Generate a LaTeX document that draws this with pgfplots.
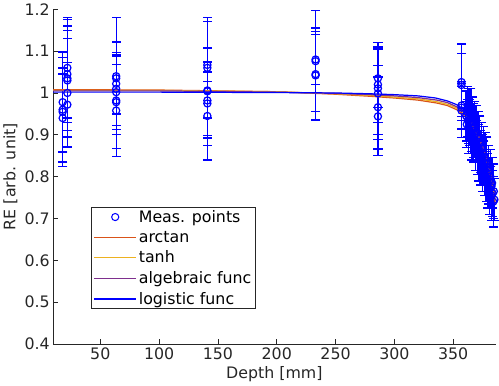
\documentclass[border=0pt]{standalone}
\usepackage{pgfplots}
\pgfplotsset{compat=1.18}
\usepackage{pgfplotstable}
\usepackage{fontspec}
\setmainfont{DejaVu Sans}
\definecolor{axc}{HTML}{262626}
\definecolor{carctan}{rgb}{0.850,0.325,0.098}
\definecolor{ctanh}{rgb}{0.929,0.694,0.125}
\definecolor{calg}{rgb}{0.494,0.184,0.556}
\definecolor{clog}{rgb}{0,0,1}

\pgfplotstableread{
x y e
18 0.940 0.105
18 0.955 0.130
18 0.978 0.120
18 0.960 0.100
22 0.972 0.100
22 1.000 0.130
22 1.030 0.120
22 1.035 0.140
22 1.045 0.115
22 1.060 0.120
63.5 0.958 0.110
63.5 0.978 0.110
63.5 0.982 0.115
63.5 1.002 0.090
63.5 1.010 0.110
63.5 1.022 0.100
63.5 1.035 0.085
63.5 1.040 0.140
141 0.945 0.105
141 0.975 0.100
141 0.982 0.090
141 1.004 0.105
141 1.006 0.165
141 1.060 0.120
141 1.067 0.040
233 1.042 0.105
233 1.045 0.110
233 1.076 0.121
233 1.080 0.060
286 0.944 0.094
286 0.966 0.100
286 0.999 0.110
286 1.011 0.110
286 1.035 0.070
286 1.020 0.090
357 0.958 0.065
357 0.970 0.057
357 1.019 0.075
357 1.026 0.091
357 0.965 0.050
361 0.945 0.060
361.5 0.925 0.055
362 0.955 0.060
362.5 0.935 0.050
363 0.915 0.060
363.5 0.945 0.065
364 0.930 0.055
364.5 0.905 0.050
365 0.940 0.070
365.5 0.920 0.060
366 0.895 0.055
366.5 0.930 0.060
367 0.910 0.065
367.5 0.885 0.050
368 0.920 0.060
368.5 0.900 0.055
369 0.875 0.060
369.5 0.905 0.065
370 0.885 0.050
370.5 0.865 0.060
371 0.895 0.060
371.5 0.870 0.055
372 0.850 0.060
372.5 0.880 0.065
373 0.860 0.050
373.5 0.840 0.060
374 0.870 0.060
374.5 0.845 0.055
375 0.825 0.060
375.5 0.855 0.065
376 0.835 0.050
376.5 0.815 0.060
377 0.845 0.060
377.5 0.820 0.055
378 0.800 0.060
378.5 0.830 0.065
379 0.805 0.050
379.5 0.785 0.060
380 0.815 0.060
380.5 0.790 0.055
381 0.770 0.060
381.5 0.800 0.065
382 0.775 0.050
382.5 0.755 0.060
383 0.785 0.060
383.5 0.760 0.055
384 0.740 0.060
384.5 0.765 0.065
385 0.745 0.050
}\meas

\pgfplotsset{
  linelegend/.style={legend image code/.code={\draw[##1] (0bp,0bp) -- (41bp,0bp);}},
  marklegend/.style={legend image code/.code={\draw[clog, line width=1bp] (20.5bp,0bp) circle (3.5bp);}},
}

\begin{document}
\begin{tikzpicture}
\begin{axis}[
  scale only axis,
  width=432bp, height=327bp,
  xmin=10, xmax=386, ymin=0.4, ymax=1.2,
  axis lines=left,
  axis line style={-, axc, line width=0.8bp},
  tick align=inside,
  major tick length=5bp,
  tick style={axc, line width=0.8bp},
  xtick={50,100,...,350},
  ytick={0.4,0.5,...,1.2},
  font=\fontsize{15.5}{18}\selectfont,
  tick label style={font=\fontsize{15.5}{18}\selectfont, text=axc},
  /pgf/number format/assume math mode=true,
  yticklabel style={/pgf/number format/fixed, /pgf/number format/precision=1},
  xlabel={Depth [mm]},
  ylabel={RE [arb. unit]},
  label style={text=axc},
  legend cell align=left,
  legend style={at={(0.0857,0.41)}, anchor=north west, draw=axc, line width=0.8bp,
    font=\fontsize{15.5}{18}\selectfont, row sep=3bp, inner xsep=2bp, inner ysep=1bp},
]
\addplot[only marks, mark=o, mark size=3.5bp, color=clog, line width=1.2bp, marklegend,
  error bars/.cd, y dir=both, y explicit, error mark=none,
  error bar style={line width=1.3bp, draw=clog}]
  table[x=x, y=y, y error=e] {\meas};
\addlegendentry{Meas. points}
\addplot[carctan, line width=1.2bp, no marks, linelegend] coordinates {
(10,1.008) (100,1.007) (200,1.003) (250,0.997) (280,0.992) (300,0.988) (320,0.983) (336,0.976) (345,0.970) (353,0.960) (358,0.950) (362,0.938) (366,0.922) (370,0.902) (374,0.876) (378,0.842) (382,0.795) (386,0.735)};
\addlegendentry{arctan}
\addplot[ctanh, line width=1.2bp, no marks, linelegend] coordinates {
(10,1.006) (100,1.006) (200,1.003) (250,0.998) (280,0.994) (300,0.990) (320,0.986) (336,0.979) (345,0.973) (353,0.964) (358,0.954) (362,0.942) (366,0.926) (370,0.906) (374,0.880) (378,0.847) (382,0.802) (386,0.745)};
\addlegendentry{tanh}
\addplot[calg, line width=1.2bp, no marks, linelegend] coordinates {
(10,1.005) (100,1.005) (200,1.002) (250,0.999) (280,0.996) (300,0.993) (320,0.989) (336,0.983) (345,0.977) (353,0.967) (358,0.957) (362,0.945) (366,0.929) (370,0.909) (374,0.883) (378,0.850) (382,0.808) (386,0.755)};
\addlegendentry{algebraic func}
\addplot[clog, line width=1.2bp, no marks, linelegend] coordinates {
(10,1.002) (100,1.002) (200,1.001) (250,1.000) (280,0.998) (300,0.996) (320,0.993) (335,0.988) (345,0.981) (353,0.972) (358,0.962) (362,0.950) (366,0.935) (370,0.915) (374,0.890) (378,0.858) (382,0.820) (386,0.775)};
\addlegendentry{logistic func}
\addplot[color=clog, only marks, mark=-, mark size=4.5bp, line width=1.3bp, forget plot]
  table[x=x, y expr=\thisrow{y}+\thisrow{e}] {\meas};
\addplot[color=clog, only marks, mark=-, mark size=4.5bp, line width=1.3bp, forget plot]
  table[x=x, y expr=\thisrow{y}-\thisrow{e}] {\meas};
\end{axis}
\end{tikzpicture}
\end{document}
